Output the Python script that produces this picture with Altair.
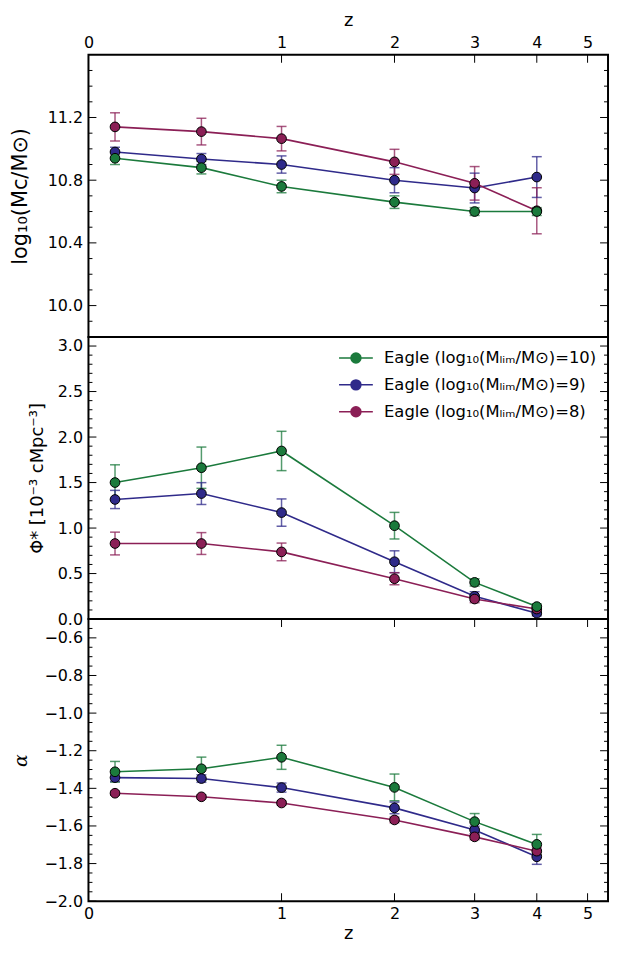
import altair as alt
import pandas as pd

# ---------------- data ----------------
z = [0.1, 0.5, 1, 2, 3, 4]
series = ["Eagle (log₁₀(Mₗᵢₘ/M⊙)=10)", "Eagle (log₁₀(Mₗᵢₘ/M⊙)=9)", "Eagle (log₁₀(Mₗᵢₘ/M⊙)=8)"]
colors = ["#1b7a3c", "#2f2a8a", "#8b1f56"]
draw_rank = [2, 0, 1]  # green on top, then purple, blue at bottom

mc_10 = [10.94, 10.88, 10.76, 10.66, 10.60, 10.60]
mc_10_err = [0.04, 0.04, 0.04, 0.04, 0.025, 0.025]
mc_9 = [10.98, 10.935, 10.90, 10.80, 10.75, 10.82]
mc_9_err = [0.03, 0.035, 0.055, 0.08, 0.095, 0.13]
mc_8 = [11.14, 11.11, 11.065, 10.917, 10.78, 10.605]
mc_8_err = [0.09, 0.085, 0.078, 0.08, 0.107, 0.147]

phi_10 = [1.50, 1.663, 1.847, 1.026, 0.403, 0.137]
phi_10_err = [0.195, 0.227, 0.216, 0.146, 0.04, 0.03]
phi_9 = [1.314, 1.379, 1.17, 0.63, 0.25, 0.065]
phi_9_err = [0.10, 0.12, 0.15, 0.12, 0.05, 0.03]
phi_8 = [0.83, 0.83, 0.738, 0.443, 0.22, 0.11]
phi_8_err = [0.125, 0.12, 0.097, 0.066, 0.04, 0.03]

alpha_10 = [-1.312, -1.296, -1.235, -1.395, -1.577, -1.698]
alpha_10_err = [0.055, 0.062, 0.064, 0.071, 0.043, 0.053]
alpha_9 = [-1.343, -1.348, -1.396, -1.504, -1.621, -1.764]
alpha_9_err = [0.02, 0.02, 0.024, 0.031, 0.02, 0.04]
alpha_8 = [-1.426, -1.445, -1.478, -1.568, -1.658, -1.734]
alpha_8_err = [0.01, 0.01, 0.01, 0.015, 0.015, 0.02]

z_tick_labels = [0, 1, 2, 3, 4, 5]

W, H = 523, 284
FONT = "DejaVu Sans"


def long_df(vals, errs):
    rows = []
    for s, v, e, r in zip(series, vals, errs, draw_rank):
        for zi, vi, ei in zip(z, v, e):
            rows.append({"opz": 1 + zi, "val": vi, "lo": vi - ei, "hi": vi + ei,
                         "series": s, "rank": r})
    return pd.DataFrame(rows)


xs = alt.Scale(type="log", domain=[1, 6.457], nice=False)
cs = alt.Scale(domain=series, range=colors)
opz_ticks = [1 + t for t in z_tick_labels]


def x_axis(orient):
    if orient is None:
        return None
    ty = -29 if orient == "top" else 38
    return alt.Axis(orient=orient, values=opz_ticks, labelExpr="format(datum.value - 1, 'd')",
                    ticks=False, domain=False, grid=False, labelFlush=False, labelOverlap=False,
                    labelFontSize=16, labelPadding=4, labelColor="black",
                    title="z", titleFontSize=18, titleFontWeight="normal",
                    titleBaseline="alphabetic", titleY=ty, titleColor="black")


def panel(df, domain, major, minor, labels, ytitle, title_style, xorient, top_ticks, bottom_ticks,
          legend=False):
    ys = alt.Scale(domain=domain, nice=False, zero=False)
    yaxis = alt.Axis(values=labels, format=".1f", ticks=False, domain=False, grid=False,
                     labelFontSize=16, labelPadding=6, labelColor="black",
                     title=ytitle, titleFontSize=title_style[0], titleFont=title_style[1],
                     titleFontStyle=title_style[2], titleFontWeight="normal",
                     titleBaseline="alphabetic", titleX=title_style[3], titleColor="black")
    xax = x_axis(xorient)

    def X(f):
        return alt.X(f, scale=xs, axis=xax)

    def Y(f):
        return alt.Y(f, scale=ys, axis=yaxis)

    col = alt.Color("series:N", scale=cs, legend=None)
    base = alt.Chart(df)

    err = base.mark_rule(strokeWidth=1.5, opacity=0.75).encode(
        x=X("opz:Q"), y=Y("lo:Q"), y2="hi:Q", color=col)
    cap_lo = base.mark_tick(orient="horizontal", size=10, thickness=1.5, opacity=0.75).encode(
        x=X("opz:Q"), y=Y("lo:Q"), color=col)
    cap_hi = base.mark_tick(orient="horizontal", size=10, thickness=1.5, opacity=0.75).encode(
        x=X("opz:Q"), y=Y("hi:Q"), color=col)
    line = base.mark_line(strokeWidth=1.6).encode(
        x=X("opz:Q"), y=Y("val:Q"), color=col, detail="series:N")
    pts = base.mark_point(filled=True, size=95, stroke="black", strokeWidth=1, opacity=1).encode(
        x=X("opz:Q"), y=Y("val:Q"), color=col, order="rank:Q")

    majdf = pd.DataFrame({"v": major})
    mindf = pd.DataFrame({"v": minor})
    tk = []
    for d, L in ((majdf, 8), (mindf, 4)):
        b = alt.Chart(d).mark_rule(color="black", strokeWidth=1)
        tk.append(b.encode(y=Y("v:Q"), x=alt.value(0), x2=alt.value(L)))
        tk.append(b.encode(y=Y("v:Q"), x=alt.value(W), x2=alt.value(W - L)))
    xt = pd.DataFrame({"t": opz_ticks[1:]})
    if top_ticks:
        tk.append(alt.Chart(xt).mark_rule(color="black", strokeWidth=1).encode(
            x=X("t:Q"), y=alt.value(0), y2=alt.value(8)))
    if bottom_ticks:
        tk.append(alt.Chart(xt).mark_rule(color="black", strokeWidth=1).encode(
            x=X("t:Q"), y=alt.value(H), y2=alt.value(H - 8)))

    layers = [err, cap_lo, cap_hi, line, pts] + tk
    if legend:
        sym = "M-3.4,0L-1,0M1,0L3.4,0M1,0A1,1,0,1,1,-1,0A1,1,0,1,1,1,0Z"
        lg = alt.Legend(title=None, orient="none", legendX=261, legendY=13, symbolType=sym,
                        symbolSize=100, symbolStrokeWidth=1.5, labelFontSize=16.5, labelFont=FONT,
                        labelColor="black", labelOffset=20, rowPadding=10, symbolOpacity=1,
                        labelLimit=0)
        leg = alt.Chart(df).mark_point(filled=True, size=100, strokeWidth=1.5, opacity=1).encode(
            x=X("opz:Q"), y=Y("val:Q"),
            fill=alt.Fill("series:N", scale=alt.Scale(domain=series, range=colors), legend=lg),
            stroke=alt.Stroke("series:N", scale=alt.Scale(domain=series, range=colors), legend=lg),
        ).transform_filter("false")
        layers.append(leg)
    return alt.layer(*layers).properties(width=W, height=H)


top = panel(long_df([mc_10, mc_9, mc_8], [mc_10_err, mc_9_err, mc_8_err]), [9.8, 11.6],
            [10.0, 10.4, 10.8, 11.2], [9.9, 10.1, 10.2, 10.3, 10.5, 10.6, 10.7, 10.9, 11.0, 11.1, 11.3, 11.4, 11.5],
            [10.0, 10.4, 10.8, 11.2], "log₁₀(Mᴄ/M⊙)", (21, FONT, "normal", -62), "top", True, False)
mid = panel(long_df([phi_10, phi_9, phi_8], [phi_10_err, phi_9_err, phi_8_err]), [0.0, 3.1],
            [0.0, 0.5, 1.0, 1.5, 2.0, 2.5, 3.0],
            [round(0.1 * i, 1) for i in range(1, 31) if i % 5 != 0],
            [0.0, 0.5, 1.0, 1.5, 2.0, 2.5, 3.0], "Φ* [10⁻³  cMpc⁻³]", (18, FONT, "normal", -46),
            None, False, False, legend=True)
bot = panel(long_df([alpha_10, alpha_9, alpha_8], [alpha_10_err, alpha_9_err, alpha_8_err]), [-2.0, -0.5],
            [-2.0, -1.8, -1.6, -1.4, -1.2, -1.0, -0.8, -0.6],
            [round(-2.0 + 0.05 * i, 2) for i in range(1, 31) if i % 4 != 0],
            [-2.0, -1.8, -1.6, -1.4, -1.2, -1.0, -0.8, -0.6], "α", (19, "DejaVu Serif", "italic", -62),
            "bottom", True, True)

chart = alt.vconcat(top, mid, bot, spacing=0, bounds="flush").resolve_scale(
    y="independent").resolve_legend(fill="independent", stroke="independent").properties(
    padding={"left": 0, "top": 0, "right": 1, "bottom": 0}
).configure(font=FONT).configure_view(stroke="black", strokeWidth=2)

chart.save("out.html", embed_options={"renderer": "svg", "actions": False})
